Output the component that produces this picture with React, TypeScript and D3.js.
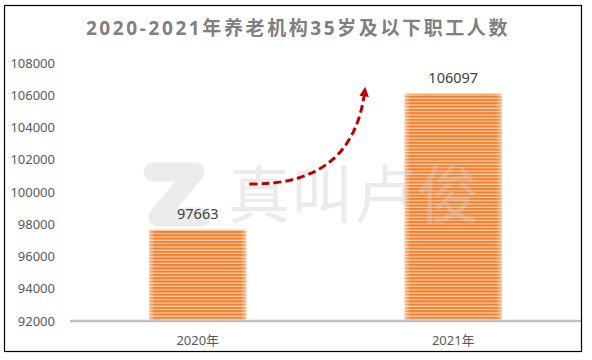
import React, { useEffect, useRef } from 'react';
import * as d3 from 'd3';

const categories = ['2020年', '2021年'];
const values = [97663, 106097];
const yTicks = [92000, 94000, 96000, 98000, 100000, 102000, 104000, 106000, 108000];
const title = '2020-2021年养老机构35岁及以下职工人数';

const W = 592;
const H = 360;

const App = () => {
  const svgRef = useRef<SVGSVGElement>(null);

  useEffect(() => {
    if (!svgRef.current) return;
    const svg = d3.select(svgRef.current);
    svg.selectAll('*').remove();

    const font = '"Noto Sans", "Noto Sans CJK SC", sans-serif';
    const left = 70, right = 581, top = 63, bottom = 321;

    const x = d3.scaleBand().domain(categories).range([left, right]).paddingInner(0.62).paddingOuter(0.31);
    const y = d3.scaleLinear().domain([92000, 108000]).range([bottom, top]);

    const defs = svg.append('defs');
    const pat = defs.append('pattern')
      .attr('id', 'stripes').attr('patternUnits', 'userSpaceOnUse')
      .attr('width', 10).attr('height', 3.3);
    pat.append('rect').attr('width', 10).attr('height', 3.3).attr('fill', '#fbd2b2');
    pat.append('rect').attr('width', 10).attr('height', 2.1).attr('fill', '#f47e2b');

    const edge = defs.append('linearGradient').attr('id', 'edge');
    edge.append('stop').attr('offset', '0%').attr('stop-color', '#fff').attr('stop-opacity', 0.45);
    edge.append('stop').attr('offset', '6%').attr('stop-color', '#fff').attr('stop-opacity', 0);
    edge.append('stop').attr('offset', '94%').attr('stop-color', '#fff').attr('stop-opacity', 0);
    edge.append('stop').attr('offset', '100%').attr('stop-color', '#fff').attr('stop-opacity', 0.45);

    defs.append('marker')
      .attr('id', 'arrow').attr('viewBox', '0 0 10 10')
      .attr('refX', 5).attr('refY', 5)
      .attr('markerWidth', 3.2).attr('markerHeight', 3.2)
      .attr('orient', 'auto')
      .append('path').attr('d', 'M0,0 L10,5 L0,10 Z').attr('fill', '#c00000');

    svg.append('rect').attr('width', W).attr('height', H).attr('fill', '#fff');
    // frame
    svg.append('rect').attr('x', 4.5).attr('y', 5.5).attr('width', 577).attr('height', 346)
      .attr('fill', 'none').attr('stroke', '#000').attr('stroke-width', 1.2);

    // title
    svg.append('text')
      .attr('x', 298).attr('y', 35).attr('text-anchor', 'middle')
      .attr('font-family', font).attr('font-size', 19).attr('font-weight', 'bold')
      .attr('letter-spacing', 2.6).attr('fill', '#7f7f7f')
      .text(title);

    // bars
    svg.selectAll('.bar').data(values).enter().append('rect')
      .attr('x', (d, i) => x(categories[i])!)
      .attr('y', d => y(d))
      .attr('width', x.bandwidth())
      .attr('height', d => bottom - y(d))
      .attr('fill', 'url(#stripes)');
    svg.selectAll('.edge').data(values).enter().append('rect')
      .attr('x', (d, i) => x(categories[i])!)
      .attr('y', d => y(d))
      .attr('width', x.bandwidth())
      .attr('height', d => bottom - y(d))
      .attr('fill', 'url(#edge)');

    // watermark (semi-transparent, over the bars)
    const wm = svg.append('g').attr('opacity', 0.4);
    wm.append('path')
      .attr('d', 'M153,172 L195,172 L158,217 L201,217')
      .attr('fill', 'none').attr('stroke', '#cfcfcf').attr('stroke-width', 19)
      .attr('stroke-linecap', 'round').attr('stroke-linejoin', 'round');
    wm.append('text')
      .attr('x', 228).attr('y', 218)
      .attr('font-family', '"Noto Sans CJK SC", sans-serif').attr('font-size', 62)
      .attr('letter-spacing', 1).attr('fill', '#cfcfcf')
      .text('真叫卢俊');

    // baseline
    svg.append('line').attr('x1', left).attr('x2', right).attr('y1', bottom).attr('y2', bottom)
      .attr('stroke', '#bfbfbf').attr('stroke-width', 2.5);

    // y tick labels
    svg.selectAll('.ytick').data(yTicks).enter().append('text')
      .attr('x', 55).attr('y', d => y(d) + 4.5).attr('text-anchor', 'end')
      .attr('font-family', font).attr('font-size', 13).attr('fill', '#595959')
      .text(d => String(d));

    // category labels
    svg.selectAll('.xlab').data(categories).enter().append('text')
      .attr('x', d => x(d)! + x.bandwidth() / 2).attr('y', 345).attr('text-anchor', 'middle')
      .attr('font-family', font).attr('font-size', 13).attr('fill', '#595959')
      .text(d => d);

    // value labels
    svg.selectAll('.vlab').data(values).enter().append('text')
      .attr('x', (d, i) => x(categories[i])! + x.bandwidth() / 2).attr('y', d => y(d) - 11)
      .attr('text-anchor', 'middle')
      .attr('font-family', font).attr('font-size', 14.5).attr('fill', '#404040')
      .text(d => String(d));

    // growth arrow
    const x0 = x(categories[0])! + x.bandwidth() + 3;
    const y0 = y(100500);
    const x1 = x(categories[1])! - 40;
    const y1 = y(106600);
    svg.append('path')
      .attr('d', `M${x0},${y0} Q${x1 - 12},${y0 + 2} ${x1},${y1 + 6}`)
      .attr('fill', 'none').attr('stroke', '#c00000').attr('stroke-width', 3)
      .attr('stroke-dasharray', '8,4')
      .attr('marker-end', 'url(#arrow)');
  }, []);

  return (
    <svg ref={svgRef} width={W} height={H} style={{ position: 'absolute', left: 0, top: 0 }} />
  );
};

export default App;
